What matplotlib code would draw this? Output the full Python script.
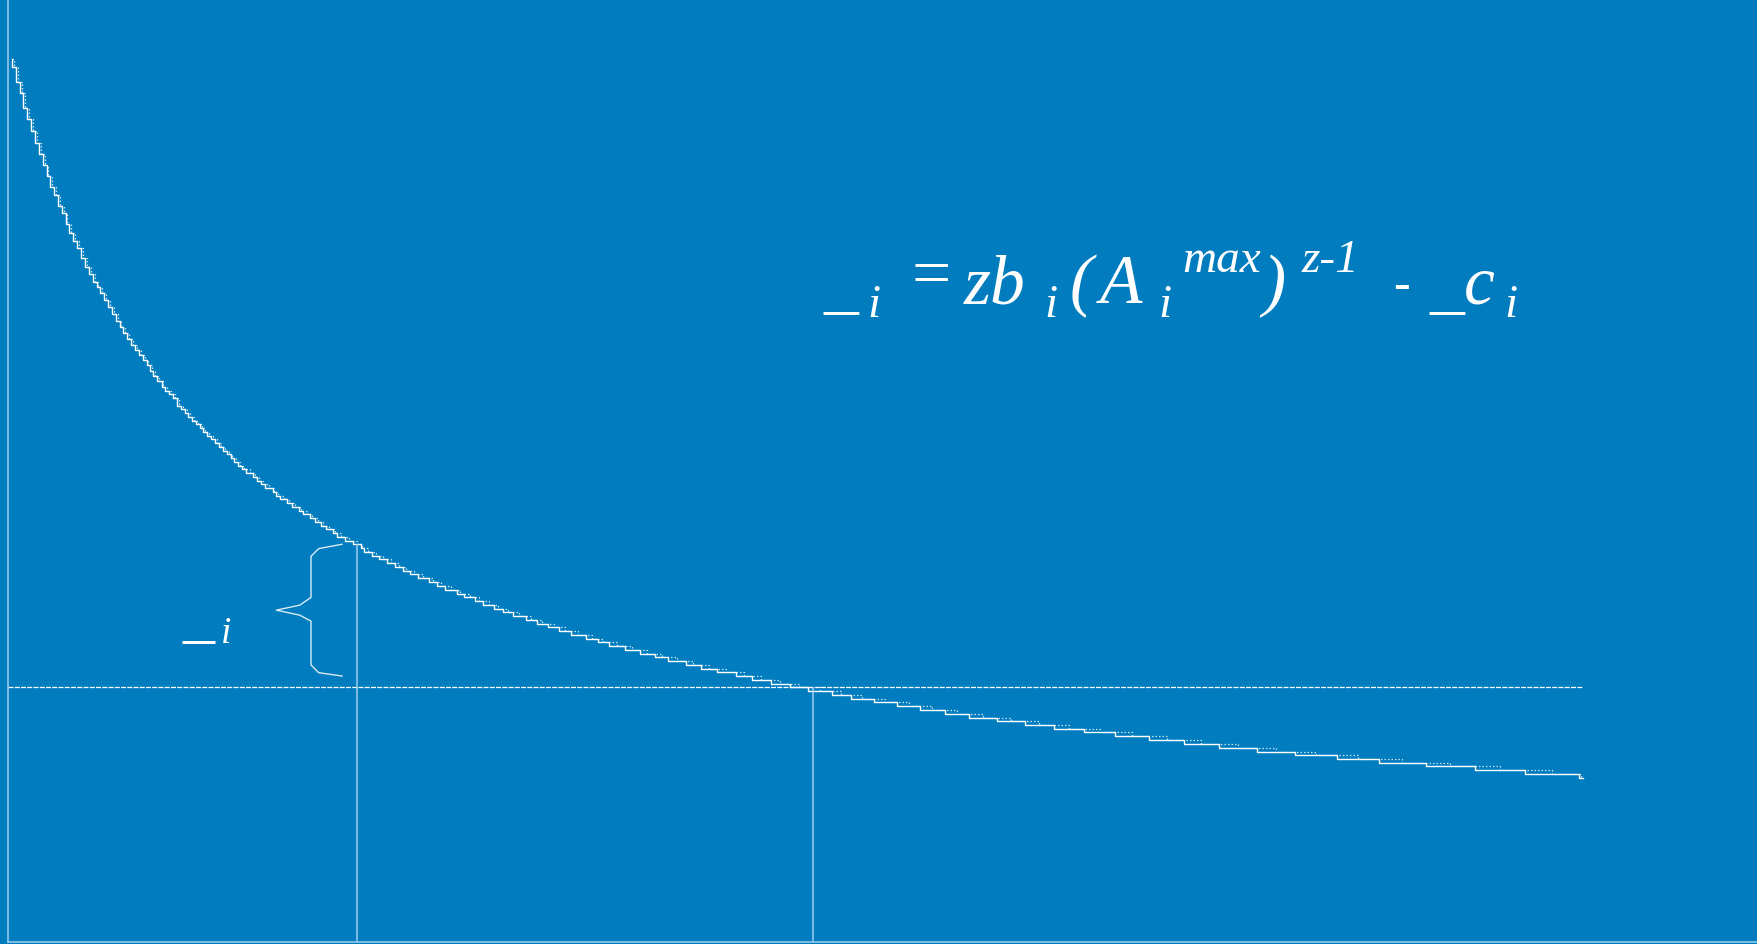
import matplotlib
matplotlib.use("Agg")
import matplotlib.pyplot as plt
from matplotlib import font_manager as fm
import numpy as np

# bid staircase (supply/demand steps): quantity where each step starts, price of that step
step_qty = [0.37, 0.38, 0.80, 1.20, 1.53, 1.93, 2.30, 2.70, 3.10, 3.47, 3.87, 4.20, 4.60, 5.03,
            5.37, 5.77, 6.13, 6.53, 6.90, 7.27, 7.70, 8.07, 8.47, 8.87, 9.20, 9.60, 9.97, 10.37,
            10.77, 11.17, 11.53, 11.93, 12.30, 12.70, 13.10, 13.47, 13.87, 14.20, 14.53, 14.93,
            15.37, 15.70, 16.10, 16.47, 16.87, 17.30, 17.70, 18.03, 18.37, 18.77, 19.20, 19.53,
            19.93, 20.30, 20.70, 21.10, 21.47, 21.87, 22.27, 22.60, 22.97, 23.37, 23.80, 24.53,
            24.87, 25.27, 25.70, 26.47, 26.80, 27.20, 27.93, 28.37, 29.13, 29.53, 30.20, 30.70,
            31.27, 31.77, 32.53, 32.93, 33.70, 34.47, 35.27, 35.63, 36.40, 37.13, 37.93, 38.70,
            39.47, 40.20, 40.97, 42.13, 42.93, 43.70, 44.87, 45.60, 46.70, 47.53, 48.63, 49.47,
            50.53, 51.77, 52.87, 54.03, 55.13, 56.30, 57.80, 58.97, 60.13, 61.70, 63.20, 64.70,
            66.03, 67.80, 69.30, 70.87, 72.80, 74.37, 76.27, 78.20, 80.03, 82.37, 84.27, 86.60,
            88.90, 91.20, 93.70, 96.13, 98.87, 101.70, 104.60, 107.63, 110.73, 114.13, 117.60,
            121.10, 124.93, 128.73, 132.93, 137.13, 141.77, 146.73, 151.73, 157.13]
step_price = [88.30, 87.47, 85.97, 84.87, 83.37, 82.27, 81.10, 79.93, 78.80, 77.70, 76.60, 75.47,
              74.70, 73.60, 72.87, 71.77, 70.93, 70.13, 69.37, 68.37, 67.53, 66.80, 66.03, 65.53,
              64.93, 64.20, 63.47, 62.80, 62.15, 61.50, 60.90, 60.30, 59.75, 59.20, 58.70, 58.20,
              57.70, 57.10, 56.63, 56.10, 55.53, 55.13, 54.77, 54.37, 53.60, 53.27, 52.87, 52.53,
              52.13, 51.77, 51.43, 51.03, 50.63, 50.27, 49.93, 49.53, 49.13, 48.77, 48.43, 48.03,
              47.63, 47.30, 46.93, 46.53, 46.10, 45.77, 45.37, 44.97, 44.60, 44.27, 43.87, 43.53,
              43.13, 42.77, 42.37, 42.03, 41.63, 41.27, 40.93, 40.53, 40.13, 39.77, 39.37, 39.03,
              38.63, 38.27, 37.87, 37.50, 37.13, 36.77, 36.37, 35.97, 35.60, 35.20, 34.83, 34.50,
              34.10, 33.70, 33.33, 32.97, 32.60, 32.20, 31.83, 31.47, 31.10, 30.70, 30.33, 29.97,
              29.60, 29.23, 28.83, 28.47, 28.10, 27.73, 27.33, 26.97, 26.60, 26.20, 25.83, 25.47,
              25.10, 24.73, 24.33, 23.97, 23.60, 23.20, 22.83, 22.43, 22.10, 21.73, 21.33, 20.97,
              20.57, 20.20, 19.80, 19.40, 19.03, 18.70, 18.30, 17.90, 17.57, 17.17, 16.80, 16.40]
end_qty = 157.5

market_price = 25.5
bid_qty = 34.9      # bidder marked with the brace
clear_qty = 80.5    # where the curve reaches the market price

BG = '#007cbf'
AXIS = '#9fd0ec'
W, H = 1758, 944

# Times-like fonts, picked by file so the italic face is really used
def find_font(key):
    for f in fm.findSystemFonts():
        if key in f.replace(' ', '').replace('_', ''):
            return f
    return None

ital_file = find_font('LiberationSerif-Italic.ttf')
reg_file = find_font('LiberationSerif-Regular.ttf')

fig = plt.figure(figsize=(W / 100, H / 100), dpi=100)
fig.patch.set_facecolor(BG)
ax = fig.add_axes([8 / W, 2 / H, 1750 / W, 942 / H])
ax.set_facecolor(BG)
ax.set_xlim(0, 175)
ax.set_ylim(0, 94.2)
for s in ['top', 'right']:
    ax.spines[s].set_visible(False)
for s in ['left', 'bottom']:
    ax.spines[s].set_color(AXIS)
    ax.spines[s].set_linewidth(1.1)
ax.set_xticks([])
ax.set_yticks([])

# solid staircase
q = np.array(step_qty)
p = np.array(step_price)
ax.plot(np.append(q, end_qty), np.append(p, p[-1]), drawstyle='steps-post',
        color='white', lw=1.0, clip_on=False)

# dotted staircase, each drop half a step later
qd = np.append(q[0], (q[1:] + np.append(q[2:], end_qty)) / 2)
ax.plot(np.append(qd, end_qty), np.append(p, p[-1]), drawstyle='steps-post',
        color='white', lw=0.9, linestyle=(0, (1.2, 1.6)), alpha=0.8, clip_on=False)

# market price line and the two quantity markers
ax.hlines(market_price, 0, end_qty, colors='white', lw=0.9, linestyles=(0, (4, 1)))
bid_price = p[np.searchsorted(q, bid_qty, side='right') - 1]
ax.vlines(bid_qty, 0, bid_price, colors=AXIS, lw=1.1)
ax.vlines(clear_qty, 0, market_price, colors=AXIS, lw=1.1)


def brace(x_right, y_top, y_bot):
    mid = (y_top + y_bot) / 2
    xs = [x_right, x_right - 2.33, x_right - 3.1, x_right - 3.1, x_right - 4.23, x_right - 6.57,
          x_right - 4.23, x_right - 3.1, x_right - 3.1, x_right - 2.33, x_right]
    ys = [y_top, y_top - 0.43, y_top - 1.2, mid + 1.27, mid + 0.5, mid,
          mid - 0.5, mid - 1.1, y_bot + 1.1, y_bot + 0.33, y_bot]
    ax.plot(xs, ys, color='white', lw=1.0, alpha=0.85)


brace(bid_qty - 1.5, bid_price, market_price + 1.1)


# formula and label
def txt(x, y, s, size, italic=True):
    f = ital_file if italic else reg_file
    if f:
        fp = fm.FontProperties(fname=f, size=size)
    else:
        fp = fm.FontProperties(family='DejaVu Serif', style='italic' if italic else 'normal', size=size)
    fig.text(x / W, 1 - y / H, s, fontproperties=fp, color='white', va='baseline', ha='left')


txt(824, 306, '_', 50, italic=False)
txt(867, 317, 'i', 34)
txt(912, 296, '=', 50, italic=False)
txt(964, 303, 'zb', 50)
txt(1044, 317, 'i', 34)
txt(1070, 303, '(', 50)
txt(1100, 303, 'A', 50)
txt(1158, 317, 'i', 34)
txt(1182, 272, 'max', 34)
txt(1262, 303, ')', 50)
txt(1302, 272, 'z-1', 34)
txt(1393, 299, '-', 36, italic=False)
txt(1430, 306, '_', 50, italic=False)
txt(1464, 303, 'c', 50)
txt(1504, 317, 'i', 34)

txt(183, 636, '_', 46, italic=False)
txt(221, 643, 'i', 27)

fig.savefig('out.png', dpi=100, facecolor=BG)
